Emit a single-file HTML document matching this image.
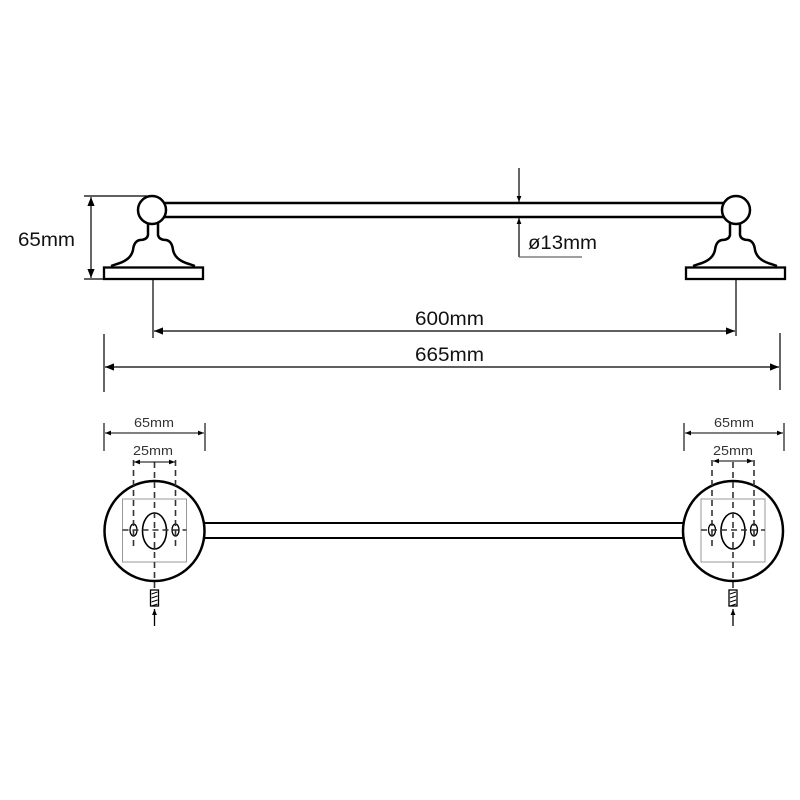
<!DOCTYPE html>
<html><head><meta charset="utf-8"><style>body{margin:0;background:#fff}svg{display:block}</style></head><body>
<svg width="800" height="800" viewBox="0 0 800 800" xmlns="http://www.w3.org/2000/svg" font-family="Liberation Sans, DejaVu Sans, sans-serif">
<defs>
<marker id="a" viewBox="0 0 10 10" refX="10" refY="5" markerWidth="9" markerHeight="9" orient="auto-start-reverse" markerUnits="userSpaceOnUse"><path d="M0,1 L10,5 L0,9z" fill="#000"/></marker>
<marker id="s" viewBox="0 0 10 10" refX="10" refY="5" markerWidth="6" markerHeight="6" orient="auto-start-reverse" markerUnits="userSpaceOnUse"><path d="M0,1 L10,5 L0,9z" fill="#000"/></marker>
<g id="bell">
<path d="M-5,223 L-5,235 Q-6,240 -13,240 Q-19,241 -20,250 Q-22,260 -36,264 L-42,266 M5,223 L5,235 Q6,240 13,240 Q19,241 20,250 Q22,260 36,264 L42,266" fill="none" stroke="#000" stroke-width="2.5"/>
<rect x="-49" y="267.5" width="99" height="11.5" fill="#fff" stroke="#000" stroke-width="2.3"/>
</g>
<g id="plan">
<circle cx="0" cy="531" r="50" fill="#fff" stroke="#000" stroke-width="2.5"/>
<rect x="-32" y="499" width="64" height="63" fill="none" stroke="#999" stroke-width="1"/>
<ellipse cx="0" cy="531" rx="12" ry="18" fill="none" stroke="#000" stroke-width="1.6"/>
<ellipse cx="-21" cy="530" rx="3.5" ry="6" fill="none" stroke="#000" stroke-width="1.3"/>
<ellipse cx="21" cy="530" rx="3.5" ry="6" fill="none" stroke="#000" stroke-width="1.3"/>
<g stroke="#333" stroke-width="1.6" stroke-dasharray="6,4">
<line x1="0" y1="462" x2="0" y2="590"/>
<line x1="-21" y1="460" x2="-21" y2="548"/>
<line x1="21" y1="460" x2="21" y2="548"/>
<line x1="-32" y1="530" x2="32" y2="530"/>
</g>
<rect x="-4" y="590" width="8" height="16" fill="#fff" stroke="#000" stroke-width="1.3"/>
<path d="M-3,594 L3,592 M-3,598 L3,596 M-3,602 L3,600 M-3,606 L3,604" stroke="#000" stroke-width="1"/>
<line x1="0" y1="626" x2="0" y2="609" stroke="#000" stroke-width="1.3" marker-end="url(#s)"/>
</g>
</defs>
<line x1="165" y1="203" x2="724" y2="203" stroke="#000" stroke-width="2.5"/>
<line x1="165" y1="217" x2="724" y2="217" stroke="#000" stroke-width="2.5"/>
<use href="#bell" x="153"/>
<use href="#bell" x="735"/>
<circle cx="152" cy="210" r="14" fill="#fff" stroke="#000" stroke-width="2.5"/>
<circle cx="736" cy="210" r="14" fill="#fff" stroke="#000" stroke-width="2.5"/>
<g stroke="#000" stroke-width="1.2">
<line x1="84" y1="196" x2="150" y2="196"/>
<line x1="84" y1="279" x2="104" y2="279"/>
<line x1="91" y1="197" x2="91" y2="278" marker-start="url(#a)" marker-end="url(#a)"/>
<line x1="153" y1="280" x2="153" y2="338"/>
<line x1="736" y1="280" x2="736" y2="336"/>
<line x1="154" y1="331" x2="735" y2="331" marker-start="url(#a)" marker-end="url(#a)"/>
<line x1="104" y1="334" x2="104" y2="392"/>
<line x1="780" y1="333" x2="780" y2="390"/>
<line x1="105" y1="367" x2="779" y2="367" marker-start="url(#a)" marker-end="url(#a)"/>
<line x1="519" y1="168" x2="519" y2="202" marker-end="url(#s)"/>
<line x1="519" y1="257" x2="519" y2="218" marker-end="url(#s)"/>
<line x1="519" y1="257" x2="582" y2="257" stroke="#666"/>
</g>
<g font-size="19" fill="#111">
<text x="18" y="246" textLength="57" lengthAdjust="spacingAndGlyphs">65mm</text>
<text x="415" y="325" textLength="69" lengthAdjust="spacingAndGlyphs">600mm</text>
<text x="415" y="361" textLength="69" lengthAdjust="spacingAndGlyphs">665mm</text>
<text x="528" y="249" textLength="69" lengthAdjust="spacingAndGlyphs">ø13mm</text>
</g>
<line x1="200" y1="523" x2="688" y2="523" stroke="#000" stroke-width="2"/>
<line x1="200" y1="538" x2="688" y2="538" stroke="#000" stroke-width="2"/>
<use href="#plan" x="154.5"/>
<use href="#plan" x="733"/>
<g stroke="#000" stroke-width="1.1">
<line x1="104" y1="423" x2="104" y2="451"/><line x1="205" y1="423" x2="205" y2="451"/>
<line x1="105" y1="433" x2="204" y2="433" marker-start="url(#s)" marker-end="url(#s)"/>
<line x1="134" y1="462" x2="175" y2="462" marker-start="url(#s)" marker-end="url(#s)"/>
<line x1="684" y1="423" x2="684" y2="451"/><line x1="784" y1="423" x2="784" y2="451"/>
<line x1="685" y1="433" x2="783" y2="433" marker-start="url(#s)" marker-end="url(#s)"/>
<line x1="713" y1="461" x2="753" y2="461" marker-start="url(#s)" marker-end="url(#s)"/>
</g>
<g font-size="13" fill="#333">
<text x="134" y="427" textLength="40" lengthAdjust="spacingAndGlyphs">65mm</text>
<text x="133" y="455" textLength="40" lengthAdjust="spacingAndGlyphs">25mm</text>
<text x="714" y="427" textLength="40" lengthAdjust="spacingAndGlyphs">65mm</text>
<text x="713" y="455" textLength="40" lengthAdjust="spacingAndGlyphs">25mm</text>
</g>
</svg>
</body></html>
